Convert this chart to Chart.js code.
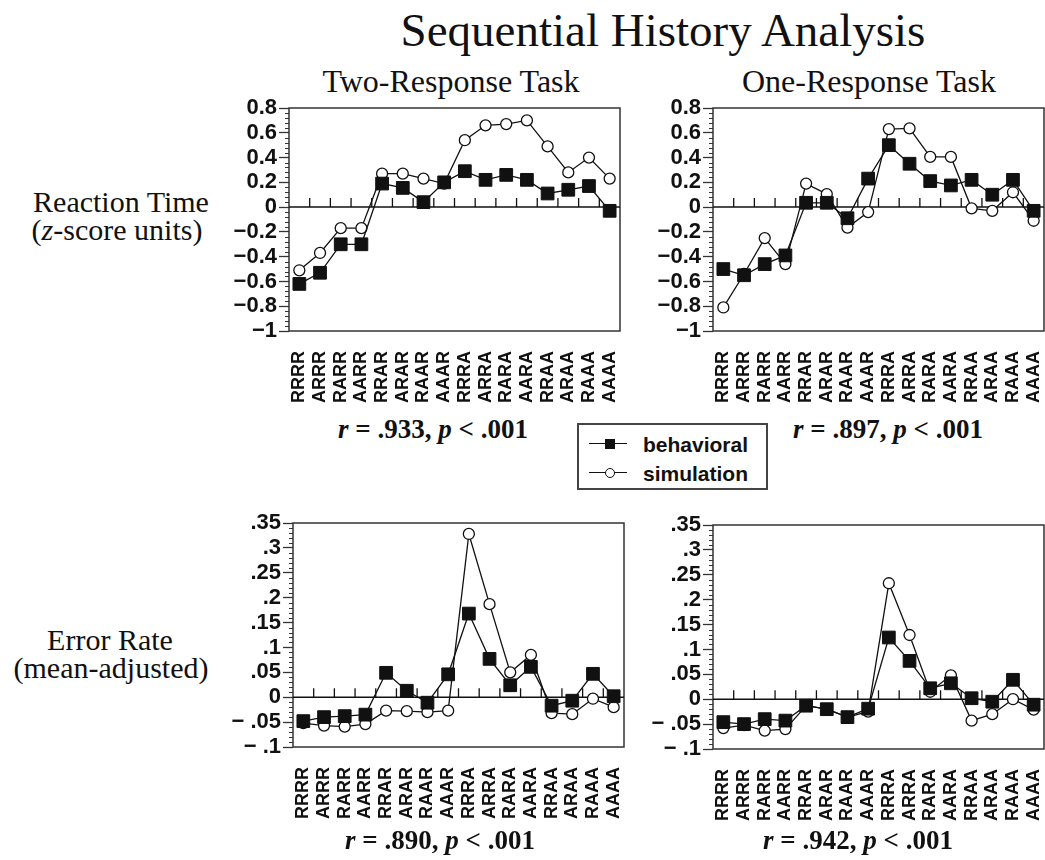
<!DOCTYPE html>
<html>
<head>
<meta charset="utf-8">
<title>Sequential History Analysis</title>
<script src="https://cdn.jsdelivr.net/npm/chart.js@4.4.1/dist/chart.umd.min.js"></script>
<style>
  html, body { margin: 0; padding: 0; width: 1045px; height: 860px; overflow: hidden; background: #fff; }
  .panel { position: absolute; }
  .txt {
    position: absolute; white-space: nowrap; line-height: 1; color: #111;
    font-family: "Liberation Serif", "Times New Roman", serif;
    transform: translateX(-50%); text-align: center;
  }
  .stat { font-weight: bold; font-size: 27px; }
  #legend { position: absolute; left: 577px; top: 423px; width: 187px; height: 63px; border: 2px solid #444; }
  #legend .ln { position: absolute; left: 10px; width: 38px; height: 0; border-top: 1.5px solid #111; }
  #legend .sq { position: absolute; left: 26px; width: 10px; height: 10px; background: #111; }
  #legend .ci { position: absolute; left: 26px; width: 8px; height: 8px; border: 1.3px solid #111; border-radius: 50%; background: #fff; }
  #legend .lbl { position: absolute; left: 64px; font: bold 21px "Liberation Sans", Arial, sans-serif; line-height: 1; color: #111; }
</style>
</head>
<body>

<div class="txt" style="left:663px; top:7px; font-size:47px;">Sequential History Analysis</div>
<div class="txt" style="left:451px; top:65px; font-size:32px;">Two-Response Task</div>
<div class="txt" style="left:869px; top:65px; font-size:32px;">One-Response Task</div>

<div class="txt" style="left:121px; top:187px; font-size:30px;">Reaction Time</div>
<div class="txt" style="left:117px; top:215px; font-size:30px;">(<i>z</i>-score units)</div>
<div class="txt" style="left:110px; top:625px; font-size:30px;">Error Rate</div>
<div class="txt" style="left:111px; top:653px; font-size:30px;">(mean-adjusted)</div>

<canvas id="rtTwo" class="panel" width="405" height="313" style="left:225px; top:98px;"></canvas>
<canvas id="rtOne" class="panel" width="405" height="313" style="left:649px; top:98px;"></canvas>
<canvas id="errTwo" class="panel" width="405" height="314" style="left:229px; top:513px;"></canvas>
<canvas id="errOne" class="panel" width="405" height="314" style="left:649px; top:515px;"></canvas>

<div class="txt stat" style="left:433px; top:416px;"><i>r</i> = .933, <i>p</i> &lt; .001</div>
<div class="txt stat" style="left:888px; top:416px;"><i>r</i> = .897, <i>p</i> &lt; .001</div>
<div class="txt stat" style="left:440px; top:827px;"><i>r</i> = .890, <i>p</i> &lt; .001</div>
<div class="txt stat" style="left:858px; top:827px;"><i>r</i> = .942, <i>p</i> &lt; .001</div>

<div id="legend">
  <span class="ln" style="top:18px;"></span><span class="sq" style="top:14px;"></span>
  <span class="lbl" style="top:9px;">behavioral</span>
  <span class="ln" style="top:47px;"></span><span class="ci" style="top:43px;"></span>
  <span class="lbl" style="top:38px;">simulation</span>
</div>

<script>
// Sequence histories (x axis)
const categories = ['RRRR', 'ARRR', 'RARR', 'AARR', 'RRAR', 'ARAR', 'RAAR', 'AAAR',
                    'RRRA', 'ARRA', 'RARA', 'AARA', 'RRAA', 'ARAA', 'RAAA', 'AAAA'];

// Reaction time, z-score units
const rtTwoBehavioral = [-0.62, -0.53, -0.30, -0.30, 0.19, 0.155, 0.04, 0.20, 0.29, 0.22, 0.26, 0.22, 0.11, 0.14, 0.17, -0.03];
const rtTwoSimulation = [-0.51, -0.37, -0.17, -0.17, 0.27, 0.27, 0.23, 0.19, 0.54, 0.66, 0.67, 0.70, 0.49, 0.28, 0.40, 0.23];
const rtOneBehavioral = [-0.50, -0.55, -0.46, -0.39, 0.035, 0.035, -0.09, 0.23, 0.50, 0.35, 0.21, 0.175, 0.22, 0.10, 0.22, -0.03];
const rtOneSimulation = [-0.81, -0.54, -0.25, -0.46, 0.19, 0.105, -0.165, -0.04, 0.63, 0.635, 0.405, 0.405, -0.01, -0.03, 0.12, -0.11];

// Error rate, mean-adjusted
const errTwoBehavioral = [-0.048, -0.040, -0.038, -0.035, 0.049, 0.013, -0.011, 0.046, 0.168, 0.077, 0.024, 0.061, -0.017, -0.007, 0.047, 0.002];
const errTwoSimulation = [-0.052, -0.057, -0.059, -0.054, -0.027, -0.028, -0.030, -0.027, 0.328, 0.187, 0.050, 0.085, -0.032, -0.034, -0.003, -0.020];
const errOneBehavioral = [-0.046, -0.050, -0.040, -0.043, -0.013, -0.020, -0.036, -0.019, 0.124, 0.077, 0.022, 0.032, 0.002, -0.005, 0.039, -0.011];
const errOneSimulation = [-0.058, -0.052, -0.063, -0.060, -0.013, -0.020, -0.036, -0.025, 0.233, 0.129, 0.015, 0.048, -0.043, -0.030, 0.000, -0.021];

// Tick values
const rtTicks = [-1, -0.8, -0.6, -0.4, -0.2, 0, 0.2, 0.4, 0.6, 0.8];
const errTicks = [-0.1, -0.05, 0, 0.05, 0.1, 0.15, 0.2, 0.25, 0.3, 0.35];

const INK = '#111';

function fmtRt(v) {
    if (v === 0) return '0';
    return (v < 0 ? '\u2212' : '') + String(Math.abs(v));
}

function fmtErr(v) {
    if (v === 0) return '0';
    const s = String(Math.abs(v)).replace(/^0/, '');
    return v < 0 ? '\u2212 ' + s : s;
}

// box, zero line, minor y ticks and the little ticks standing on the zero line
const framePlugin = {
    id: 'frame',
    beforeDatasetsDraw(chart) {
        const { ctx, chartArea: a, scales: { x, y } } = chart;
        ctx.save();
        ctx.strokeStyle = '#333';
        ctx.lineWidth = 1.5;
        ctx.strokeRect(a.left, a.top, a.right - a.left, a.bottom - a.top);

        // zero line
        const y0 = y.getPixelForValue(0);
        ctx.strokeStyle = INK;
        ctx.beginPath();
        ctx.moveTo(a.left, y0);
        ctx.lineTo(a.right, y0);
        ctx.stroke();

        // category boundary ticks on the zero line
        ctx.lineWidth = 1.3;
        ctx.beginPath();
        for (let i = 0; i < categories.length - 1; i++) {
            const px = (x.getPixelForValue(i) + x.getPixelForValue(i + 1)) / 2;
            ctx.moveTo(px, y0);
            ctx.lineTo(px, y0 - 9);
        }
        ctx.stroke();

        // minor ticks on the y axis
        const major = y.ticks.map(t => t.value);
        ctx.lineWidth = 1;
        ctx.strokeStyle = '#333';
        ctx.beginPath();
        for (let i = 0; i < major.length - 1; i++) {
            const step = (major[i + 1] - major[i]) / 5;
            for (let k = 1; k < 5; k++) {
                const py = Math.round(y.getPixelForValue(major[i] + step * k)) + 0.5;
                ctx.moveTo(a.left - 4, py);
                ctx.lineTo(a.left, py);
            }
        }
        ctx.stroke();
        ctx.restore();
    }
};

function makePanel(id, behavioral, simulation, tickValues, fmt) {
    new Chart(document.getElementById(id), {
        type: 'line',
        data: {
            labels: categories,
            datasets: [{
                label: 'behavioral',
                data: behavioral,
                borderColor: INK,
                borderWidth: 1.3,
                backgroundColor: INK,
                pointStyle: 'rect',
                pointRadius: 9,
                pointBorderWidth: 1,
                tension: 0,
                clip: false
            }, {
                label: 'simulation',
                data: simulation,
                borderColor: INK,
                borderWidth: 1.3,
                backgroundColor: '#fff',
                pointStyle: 'circle',
                pointRadius: 5.5,
                pointBorderWidth: 1.3,
                tension: 0,
                clip: false
            }]
        },
        options: {
            responsive: false,
            animation: false,
            devicePixelRatio: 1,
            layout: { padding: { top: 10, right: 6, left: 0, bottom: 0 } },
            plugins: {
                legend: { display: false },
                tooltip: { enabled: false }
            },
            scales: {
                x: {
                    type: 'category',
                    offset: true,
                    grid: { display: false, drawTicks: false },
                    border: { display: false },
                    ticks: {
                        autoSkip: false,
                        minRotation: 90,
                        maxRotation: 90,
                        padding: 20,
                        color: INK,
                        font: { family: 'Liberation Sans', weight: 'bold', size: 18 }
                    },
                    afterFit: s => {
                        s.height = 80;
                        s.paddingLeft = 0;
                        s.paddingRight = 0;
                    }
                },
                y: {
                    min: tickValues[0],
                    max: tickValues[tickValues.length - 1],
                    grid: { drawOnChartArea: false, drawTicks: true, tickLength: 10, tickColor: '#333', tickWidth: 1.3 },
                    border: { display: false },
                    afterBuildTicks: s => { s.ticks = tickValues.map(v => ({ value: v })); },
                    ticks: {
                        autoSkip: false,
                        padding: 2,
                        color: INK,
                        callback: v => fmt(v),
                        font: { family: 'Liberation Sans', weight: 'bold', size: 22 }
                    },
                    afterFit: s => {
                        s.width = 64;
                        s.paddingTop = 0;
                        s.paddingBottom = 0;
                    }
                }
            }
        },
        plugins: [framePlugin]
    });
}

makePanel('rtTwo', rtTwoBehavioral, rtTwoSimulation, rtTicks, fmtRt);
makePanel('rtOne', rtOneBehavioral, rtOneSimulation, rtTicks, fmtRt);
makePanel('errTwo', errTwoBehavioral, errTwoSimulation, errTicks, fmtErr);
makePanel('errOne', errOneBehavioral, errOneSimulation, errTicks, fmtErr);
</script>
</body>
</html>
